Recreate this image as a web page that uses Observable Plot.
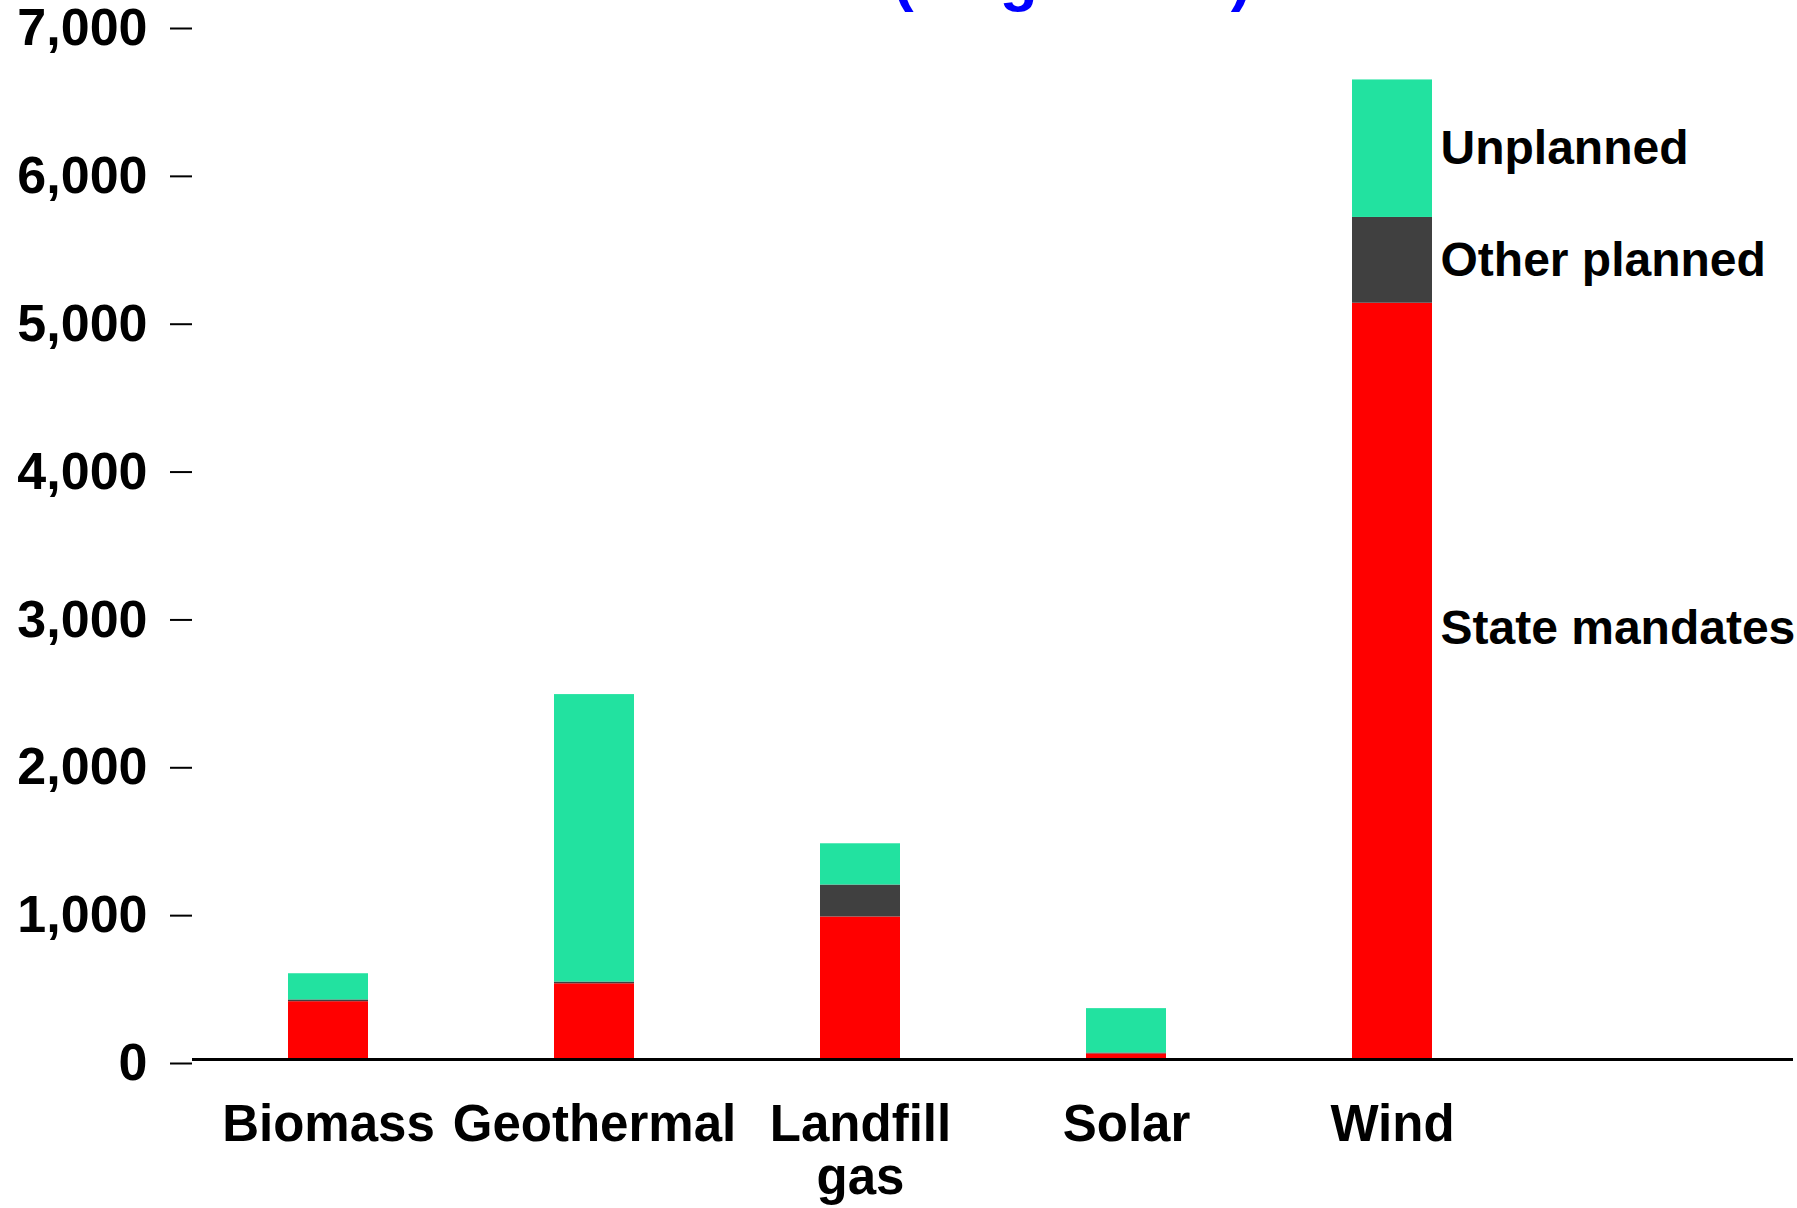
<!DOCTYPE html>
<html>
<head>
<meta charset="utf-8">
<script src="https://cdn.jsdelivr.net/npm/d3@7"></script>
<script src="https://cdn.jsdelivr.net/npm/@observablehq/plot@0.6"></script>
<style>
  html, body { margin: 0; padding: 0; background: #fff; overflow: hidden; }
  #wrap { position: relative; width: 1797px; height: 1208px; }
  #title { position: absolute; left: 590px; top: -53px; font-family: "Liberation Sans", Arial, sans-serif;
           font-weight: bold; font-size: 62px; line-height: 62px; color: #0000ff; white-space: nowrap; }
  #chart { position: absolute; left: 0; top: 0; }
</style>
</head>
<body>
<div id="wrap">
  <div id="chart"></div>
  <div id="title">Additions (Megawatts)</div>
</div>
<script>
// Categories (last one is an empty slot on the right of the axis)
const categories = ["Biomass", "Geothermal", "Landfill\ngas", "Solar", "Wind", ""];
const sources = ["Biomass", "Geothermal", "Landfill\ngas", "Solar", "Wind"];
const series = ["State mandates", "Other planned", "Unplanned"];
const stateMandates = [391, 512, 964, 38, 5115];
const otherPlanned  = [12, 12, 216, 6, 580];
const unplanned     = [177, 1944, 279, 300, 930];
const yTicks = [0, 1000, 2000, 3000, 4000, 5000, 6000, 7000];
const colors = ["#ff0000", "#404040", "#22e2a0"];

const valuesBySeries = [stateMandates, otherPlanned, unplanned];
const rows = [];
sources.forEach((s, i) => {
  series.forEach((t, j) => rows.push({source: s, type: t, value: valuesBySeries[j][i]}));
});

// Labels next to the Wind bar (midpoints of its stacked segments)
const windIdx = sources.indexOf("Wind");
let acc = 0;
const windLabels = series.map((t, j) => {
  const v = valuesBySeries[j][windIdx];
  const mid = acc + v / 2;
  acc += v;
  return {source: "Wind", type: t, y: mid};
});

const font = '"Liberation Sans", Arial, sans-serif';
const fmt = d3.format(",");

const chart = Plot.plot({
  width: 1797,
  height: 1208,
  marginTop: 24,
  marginBottom: 149,
  marginLeft: 192,
  marginRight: 4,
  style: {fontFamily: font, fontWeight: "bold", background: "transparent", overflow: "visible"},
  x: {domain: categories, paddingInner: 0.7, paddingOuter: 0.35, label: null},
  y: {domain: [0, 7000], label: null},
  color: {domain: series, range: colors},
  marks: [
    Plot.barY(rows, {x: "source", y: "value", fill: "type", order: series}),
    Plot.ruleY([0], {stroke: "#000", strokeWidth: 3}),
    Plot.axisY({ticks: yTicks, tickFormat: fmt, tickSize: 22, tickPadding: 23, fontSize: 52,
                fontWeight: "bold", stroke: "#000", strokeWidth: 2, color: "#000", dy: 4}),
    Plot.axisX({tickSize: 0, tickPadding: 44, fontSize: 51, fontWeight: "bold", lineHeight: 1.04,
                color: "#000"}),
    Plot.text(windLabels.filter(d => d.type !== "State mandates"),
      {x: "source", y: "y", text: "type", textAnchor: "start", dx: 48, fontSize: 48, fontWeight: "bold", fill: "#000"}),
    Plot.text(windLabels.filter(d => d.type === "State mandates"),
      {x: "source", y: "y", text: "type", textAnchor: "start", dx: 48, dy: -53, fontSize: 48, fontWeight: "bold", fill: "#000"})
  ]
});
document.getElementById("chart").appendChild(chart);
</script>
</body>
</html>
